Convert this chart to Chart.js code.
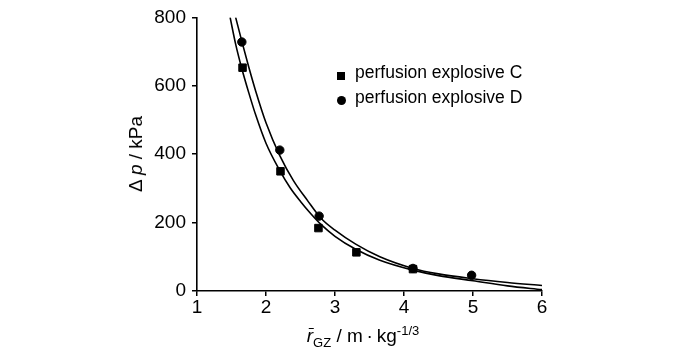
<!DOCTYPE html>
<html>
<head>
<meta charset="utf-8">
<script src="https://cdn.jsdelivr.net/npm/chart.js@4.4.0/dist/chart.umd.min.js"></script>
<style>
    body { margin: 0; background: #fff; }
    #wrap {
        position: relative;
        width: 700px;
        height: 348px;
        font-family: 'Liberation Sans', Arial, sans-serif;
        color: #000;
    }
    #wrap canvas { position: absolute; left: 0; top: 0; }
    .ytitle {
        position: absolute;
        left: 136px;
        top: 154px;
        transform: translate(-50%, -50%) rotate(-90deg);
        font-size: 19px;
        white-space: nowrap;
    }
    .xtitle {
        position: absolute;
        left: 363px;
        top: 323px;
        transform: translateX(-50%);
        font-size: 19px;
        white-space: nowrap;
    }
    .xtitle sub, .xtitle sup { font-size: 13px; }
    .rbar { position: relative; display: inline-block; }
    .rbar::before {
        content: '';
        position: absolute;
        left: 2px;
        right: -1px;
        top: 3px;
        border-top: 1.5px solid #000;
    }
    .legend {
        position: absolute;
        left: 337px;
        top: 63px;
        font-size: 17.5px;
        line-height: 25px;
    }
    .legend div { display: flex; align-items: center; white-space: nowrap; }
    .legend .txt { position: relative; top: -3px; }
    .mk { display: inline-block; width: 8px; height: 8px; background: #000; margin-right: 10px; }
    .mk.circ { width: 9px; height: 9px; border-radius: 50%; margin-right: 9px; }
</style>
</head>
<body>
<div id="wrap">
    <canvas id="chart" width="700" height="348"></canvas>
    <div class="ytitle">&Delta; <i>p</i> / kPa</div>
    <div class="xtitle"><span class="rbar"><i>r</i></span><sub>GZ</sub> / m&thinsp;&middot;&thinsp;kg<sup>-1/3</sup></div>
    <div class="legend">
        <div><span class="mk"></span><span class="txt">perfusion explosive C</span></div>
        <div><span class="mk circ"></span><span class="txt">perfusion explosive D</span></div>
    </div>
</div>
<script>
// axis ticks
const xTicks = [1, 2, 3, 4, 5, 6];
const yTicks = [0, 200, 400, 600, 800];

// measured points
const cX = [1.66, 2.21, 2.76, 3.31, 4.13];
const cY = [653, 350, 184, 113, 64];
const dX = [1.65, 2.20, 2.77, 4.13, 4.98];
const dY = [728, 412, 219, 66, 46];

// fitted curves
const fitCX = [1.48, 1.56, 1.65, 1.75, 1.85, 2.0, 2.2, 2.35, 2.5, 2.65, 2.8, 3.0, 3.3, 3.65, 4.13, 4.5, 5.0, 5.5, 6.0];
const fitCY = [800, 722, 650, 580, 515, 432, 352, 302, 262, 226, 194, 160, 122, 90, 61, 45, 30, 15, 4];
const fitDX = [1.56, 1.65, 1.75, 1.85, 2.0, 2.2, 2.4, 2.6, 2.8, 3.0, 3.3, 3.65, 4.13, 4.5, 5.0, 5.5, 6.0];
const fitDY = [800, 730, 655, 585, 492, 396, 322, 265, 212, 178, 137, 100, 66, 50, 36, 25, 16];

const pts = (xs, ys) => xs.map((x, i) => ({ x: x, y: ys[i] }));
const fontFamily = "'Liberation Sans', Arial, sans-serif";

const axisStyle = {
    grid: { drawOnChartArea: false, drawTicks: true, tickLength: 5, color: '#000', lineWidth: 1.5 },
    border: { display: true, color: '#000', width: 1.6 }
};

new Chart(document.getElementById('chart').getContext('2d'), {
    type: 'scatter',
    data: {
        datasets: [
            {
                label: 'fit C',
                data: pts(fitCX, fitCY),
                showLine: true,
                pointRadius: 0,
                borderColor: '#000',
                borderWidth: 1.6,
                cubicInterpolationMode: 'monotone'
            },
            {
                label: 'fit D',
                data: pts(fitDX, fitDY),
                showLine: true,
                pointRadius: 0,
                borderColor: '#000',
                borderWidth: 1.6,
                cubicInterpolationMode: 'monotone'
            },
            {
                label: 'perfusion explosive C',
                data: pts(cX, cY),
                pointStyle: 'rect',
                pointRadius: 5.3,
                backgroundColor: '#000',
                borderColor: '#000',
                borderWidth: 1
            },
            {
                label: 'perfusion explosive D',
                data: pts(dX, dY),
                pointStyle: 'circle',
                pointRadius: 4.2,
                backgroundColor: '#000',
                borderColor: '#000',
                borderWidth: 1
            }
        ]
    },
    options: {
        responsive: false,
        animation: false,
        layout: { padding: { left: 0, right: 158, top: 12, bottom: 0 } },
        plugins: {
            legend: { display: false },
            tooltip: { enabled: false }
        },
        scales: {
            x: {
                type: 'linear',
                min: 1,
                max: 6,
                afterBuildTicks: (s) => { s.ticks = xTicks.map(v => ({ value: v })); },
                afterFit: (s) => { s.height = 57; },
                ticks: { color: '#000', padding: 0, maxRotation: 0, font: { family: fontFamily, size: 19 } },
                ...axisStyle
            },
            y: {
                type: 'linear',
                min: 0,
                max: 800,
                afterBuildTicks: (s) => { s.ticks = yTicks.map(v => ({ value: v })); },
                afterFit: (s) => { s.width = 197; },
                ticks: { color: '#000', padding: 6, font: { family: fontFamily, size: 19 } },
                ...axisStyle
            }
        }
    }
});
</script>
</body>
</html>
